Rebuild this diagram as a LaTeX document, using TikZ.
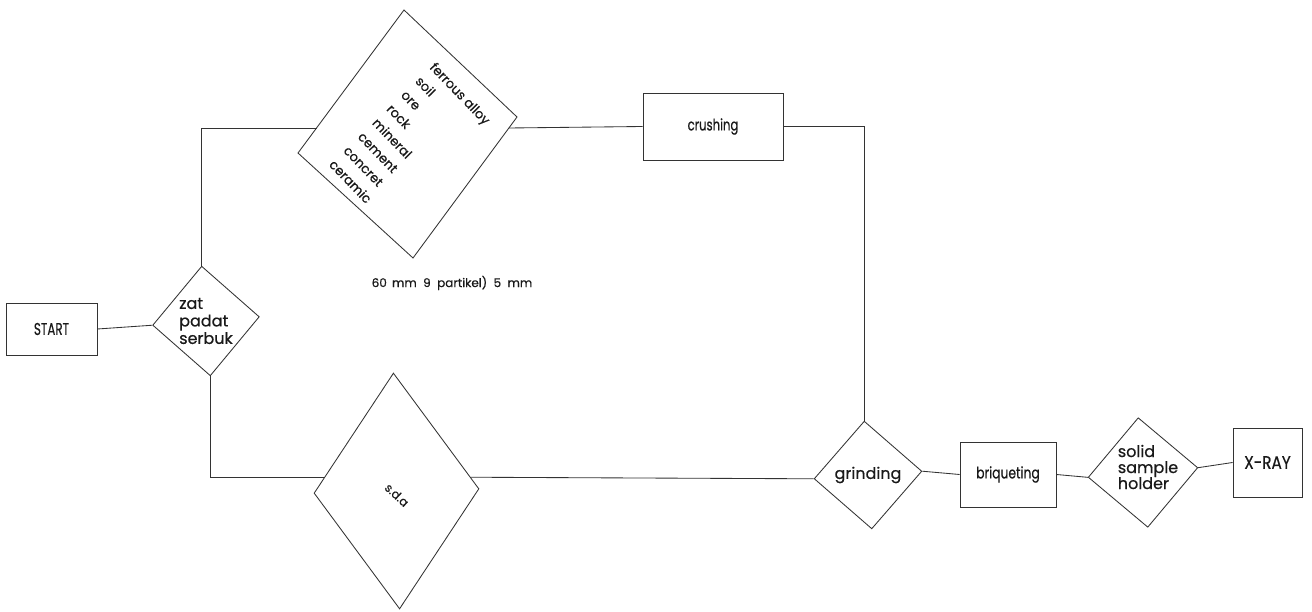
\documentclass[tikz,border=0pt]{standalone}
\usepackage{fontspec}
\setmainfont{Poppins}[FakeBold=0.5]
\usetikzlibrary{shapes.geometric,calc}
\begin{document}
\begin{tikzpicture}[x=1pt,y=-1pt,
  ink/.style={draw=black!80,line width=0.85pt},
  link/.style={ink},
  box/.style={ink,rectangle,inner sep=0pt,text=black!90},
  rhomb/.style={ink,diamond,inner sep=0pt},
  lbl/.style={align=left,inner sep=0pt,text=black!90},
]
\useasboundingbox[fill=white] (0,0) rectangle (1312,612);

% main row of boxes
\node[box,minimum width=91pt,minimum height=52pt,font=\fontsize{17}{19}\selectfont] (start) at (51.5,329) {\scalebox{0.7}[1]{START}};
\node[box,minimum width=140pt,minimum height=67pt,font=\fontsize{16}{18}\selectfont] (crush) at (713,126.5) {\scalebox{0.73}[1]{crushing}};
\node[box,minimum width=96pt,minimum height=65pt,font=\fontsize{16}{18}\selectfont] (briq) at (1008,474.5) {\scalebox{0.77}[1]{briqueting}};
\node[box,minimum width=69pt,minimum height=69pt,font=\fontsize{18}{20}\selectfont] (xray) at (1267.5,462.5) {\scalebox{0.85}[1]{X-RAY}};

% decision diamonds
\node[rhomb,rotate=4.5,minimum width=107pt,minimum height=110pt] (zat) at (206,321) {};
\node[lbl,font=\fontsize{16}{17.5}\selectfont] (zatt) at (zat.center) {zat\\padat\\serbuk};

\node[rhomb,rotate=4,minimum width=108pt,minimum height=108pt] (grind) at (868,475) {};
\node[lbl,font=\fontsize{16}{18}\selectfont] (grindt) at (grind.center) {grinding};

\node[rhomb,rotate=5,minimum width=110pt,minimum height=110pt] (solid) at (1143,472.5) {};
\node[lbl,font=\fontsize{16}{16}\selectfont,anchor=center] (solidt) at (1148,467) {solid\\sample\\holder};

\node[rhomb,rotate=1.5,minimum width=165pt,minimum height=236pt] (sda) at (396.5,491) {};
\node[lbl,font=\fontsize{12}{14}\selectfont,rotate=-43] (sdat) at (397,495) {s.d.a};

% material box (slanted)
\coordinate (mt) at (404,10);
\coordinate (mr) at (517,117);
\coordinate (mb) at (413,258);
\coordinate (ml) at (298,153);
\draw[ink,fill=white] (mt) -- (mr) -- (mb) -- (ml) -- cycle;
\node[lbl,font=\fontsize{13}{20}\selectfont,rotate=-46] (mat) at (410,142)
  {ferrous alloy\\soil\\ore\\rock\\mineral\\cement\\concret\\ceramic};
\coordinate (min) at ($(mt)!0.825!(ml)$);
\coordinate (mout) at ($(mr)!0.078!(mb)$);

\node[inner sep=0pt,font=\fontsize{12}{14}\selectfont,text=black!90] (size) at (452,283)
  {60\,\ mm\ \ 9\ \ partikel)\ \ 5\ \ mm};

% connectors
\draw[link] (start.east) -- (zat.west);
\draw[link] (zat.north) |- (min);
\draw[link] (mout) -- (crush.west);
\draw[link] (crush.east) -| (grind.north);
\draw[link] (zat.south) |- (sda.168);
\draw[link] (sda.9) -- (grind.west);
\draw[link] (grind.east) -- (briq.west);
\draw[link] (briq.east) -- (solid.west);
\draw[link] (solid.east) -- (xray.west);
\end{tikzpicture}
\end{document}
